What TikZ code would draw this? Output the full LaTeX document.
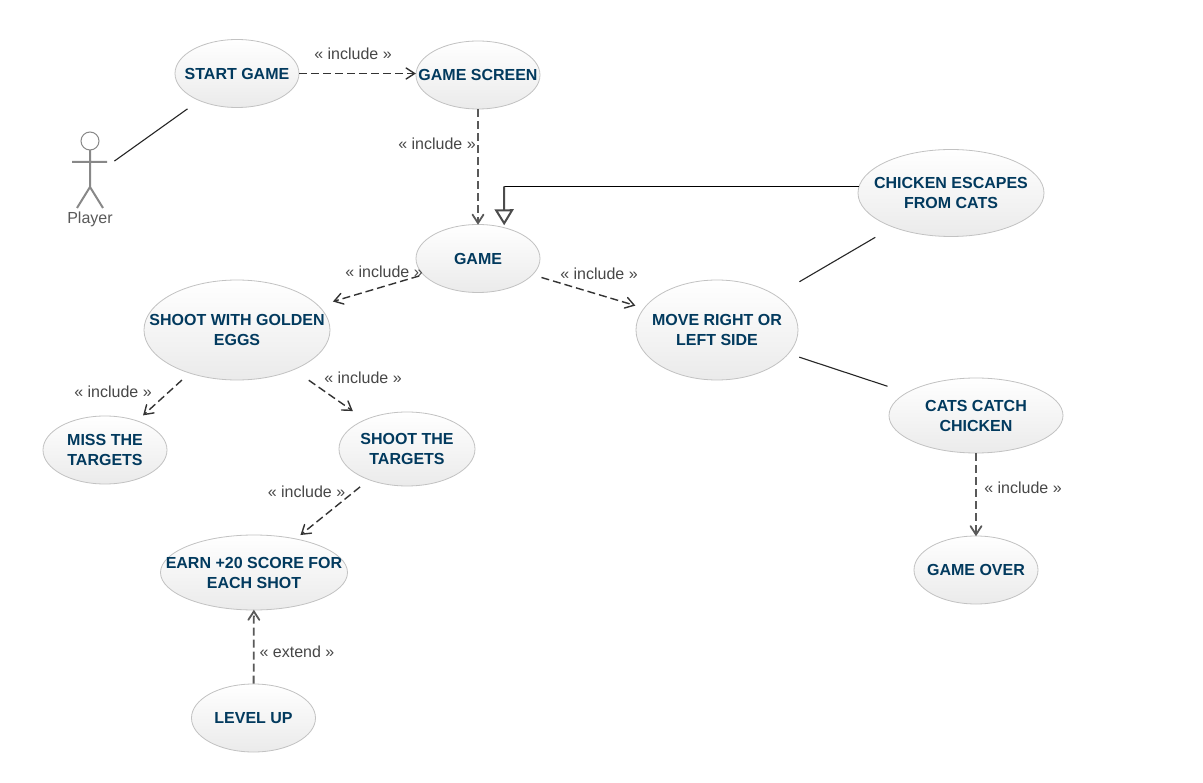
\documentclass[tikz,border=0pt]{standalone}
\usepackage{xcolor}
\usepackage{fontspec}
\setmainfont{Liberation Sans}
\usetikzlibrary{shapes.geometric,arrows.meta}
\definecolor{casetxt}{HTML}{023A5E}
\definecolor{noteline}{HTML}{333333}
\definecolor{caseedge}{HTML}{C2C2C2}
\definecolor{stickman}{HTML}{888888}
\newcommand{\casetext}[1]{\makebox[0pt]{\parbox{220pt}{\centering\fontsize{16}{20}\selectfont\bfseries #1}}}
% Plain open arrow head
\pgfdeclarearrow{
  name=OpenVee,
  setup code={\pgfarrowssettipend{1pt}\pgfarrowssetlineend{-0.6pt}\pgfarrowssetvisualbackend{-9pt}\pgfarrowssetbackend{-9pt}},
  drawing code={\pgfsetdash{}{0pt}\pgfsetroundcap\pgfpathmoveto{\pgfqpoint{-8.5pt}{5.5pt}}\pgfpathlineto{\pgfpointorigin}\pgfpathlineto{\pgfqpoint{-8.5pt}{-5.5pt}}\pgfusepathqstroke},
  defaults={}
}
\tikzset{
  usecase/.style={ellipse, draw=caseedge, line width=0.8pt, top color=white, bottom color=black!8, inner sep=0pt, text=casetxt},
  includeline/.style={draw=noteline, line width=1.4pt, dash pattern=on 8pt off 4pt, -OpenVee},
  upright/.style={draw=black!65, line width=1.8pt},
  assocline/.style={draw=black!85, line width=1.1pt},
  note/.style={text=noteline!90, font=\fontsize{16}{20}\selectfont, inner sep=0pt}
}
\begin{document}
\begin{tikzpicture}[x=1pt,y=-1pt]
\useasboundingbox (0,0) rectangle (1203,783);
\fill[white] (0,0) rectangle (1203,783);

% Use cases
\foreach \name/\x/\y/\w/\h/\txt in {
    start/237/73.5/124/68/START GAME,
    screen/478/75/124/68/GAME SCREEN,
    game/478/258.5/124/68/GAME,
    shoot/237/330/186/100/SHOOT WITH GOLDEN\\EGGS,
    move/717/330/162/100/MOVE RIGHT OR\\LEFT SIDE,
    chicken/951/193/186/87/CHICKEN ESCAPES\\FROM CATS,
    cats/976/415.5/174/75/CATS CATCH\\CHICKEN,
    over/976/570/124/68/GAME OVER,
    miss/105/450/124/68/MISS THE\\TARGETS,
    targets/407/449/136/74/SHOOT THE\\TARGETS,
    earn/254/572.5/187/75/EARN +20 SCORE FOR\\EACH SHOT,
    level/253.5/718/124/68/LEVEL UP} {
    \node[usecase, minimum width=\w pt, minimum height=\h pt] (\name) at (\x,\y) {\casetext{\txt}};
}

% Player
\draw[stickman, line width=1pt] (90,141) circle (9);
\draw[stickman, line width=2pt] (90,150) -- (90,187) (72,162) -- (107,162) (77,208) -- (90,187) -- (103,208);
\node[note, text=black!65] (player) at (90,219.5) {Player};
\coordinate (playermid) at (90,178.5);

% Associations
\draw[assocline, shorten <=30pt, shorten >=14pt] (playermid) -- (start);
\draw[assocline, shorten <=27pt, shorten >=20pt] (move) -- (chicken);
\draw[assocline, shorten <=11pt, shorten >=20pt] (move) -- (cats);

% Generalization
\coordinate (genbend) at (504,186.5);
\draw[black, line width=1.2pt] (chicken.175.6 |- genbend) -- (genbend);
\draw[black!70, line width=2pt, shorten >=2pt, -{Triangle[open, length=16pt, width=19pt, line width=2pt, fill=white]}] (genbend) -- (game.50);

% Includes
\draw[includeline] (start.east) -- (start.east -| screen.west);
\draw[includeline, upright] (screen) -- (game);
\draw[includeline, shorten <=4pt, shorten >=15pt] (game) -- (shoot);
\draw[includeline, shorten <=9pt, shorten >=9pt] (game) -- (move);
\draw[includeline, shorten <=10pt, shorten >=8pt] (shoot) -- (miss);
\draw[includeline, shorten <=18pt, shorten >=15pt] (shoot) -- (targets);
\draw[includeline, shorten <=11pt, shorten >=6pt] (targets) -- (earn);
\draw[includeline, upright] (level) -- (earn);
\draw[includeline, upright] (cats) -- (over);

% Labels
\foreach \name/\x/\y/\txt in {
    inca/353/53.5/« include »,
    incb/437/143.5/« include »,
    incc/384/272/« include »,
    incd/599/273.5/« include »,
    ince/113/391.5/« include »,
    incf/363/377.5/« include »,
    incg/306.5/491.5/« include »,
    inch/1023/487.5/« include »,
    exta/297/651.5/« extend »} {
    \node[note] (\name) at (\x,\y) {\txt};
}
\end{tikzpicture}
\end{document}
